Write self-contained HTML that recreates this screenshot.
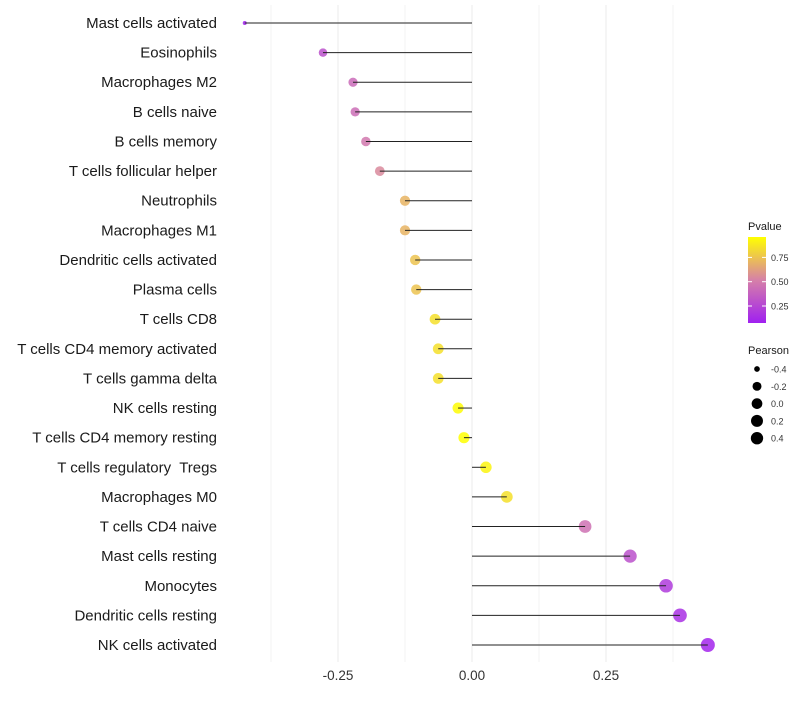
<!DOCTYPE html>
<html><head><meta charset="utf-8"><style>
body{margin:0;background:#fff;font-family:"Liberation Sans",sans-serif}
text{white-space:pre}
</style></head><body>
<svg id="c" width="800" height="700" xmlns="http://www.w3.org/2000/svg"></svg>
<script>
const categories=["Mast cells activated","Eosinophils","Macrophages M2","B cells naive","B cells memory","T cells follicular helper","Neutrophils","Macrophages M1","Dendritic cells activated","Plasma cells","T cells CD8","T cells CD4 memory activated","T cells gamma delta","NK cells resting","T cells CD4 memory resting","T cells regulatory  Tregs","Macrophages M0","T cells CD4 naive","Mast cells resting","Monocytes","Dendritic cells resting","NK cells activated"];
const pearson=[-0.424,-0.278,-0.222,-0.218,-0.198,-0.172,-0.125,-0.125,-0.106,-0.104,-0.069,-0.063,-0.063,-0.026,-0.015,0.026,0.065,0.211,0.295,0.362,0.388,0.440];
const pvalue=[0.08,0.3,0.42,0.43,0.48,0.55,0.7,0.7,0.75,0.75,0.85,0.85,0.85,0.95,0.97,0.92,0.85,0.45,0.3,0.2,0.15,0.1];
const xTicks=[-0.25,0,0.25];
const xTickLabels=["-0.25","0.00","0.25"];
const xMinor=[-0.375,-0.125,0.125,0.375];
const cbTicks=[0.25,0.5,0.75];
const sizeTicks=[-0.4,-0.2,0.0,0.2,0.4];
const sizeTickLabels=["-0.4","-0.2","0.0","0.2","0.4"];

const NS="http://www.w3.org/2000/svg";
const svg=document.getElementById('c');
function el(t,a,p){const e=document.createElementNS(NS,t);for(const k in a)e.setAttribute(k,a[k]);(p||svg).appendChild(e);return e;}
const x=v=>472+v*536;
const y=i=>23+i*(622/21);
const r=v=>2+5*Math.pow(Math.max(0,(v+0.424)/0.864),0.45);
function lerp(a,b,t){return a.map((c,i)=>Math.round(c+(b[i]-c)*t));}
function col(p){const lo=0.075,hi=0.96;let t=Math.max(0,Math.min(1,(p-lo)/(hi-lo)));
 const A=[160,32,240],M=[214,128,168],B=[255,255,0];
 const c=t<0.5?lerp(A,M,t/0.5):lerp(M,B,(t-0.5)/0.5);return `rgb(${c})`;}

xMinor.concat(xTicks).forEach(v=>{const g=el('line',{x1:x(v),x2:x(v),y1:5,y2:662,stroke:'#ebebeb','stroke-width':xTicks.includes(v)?1:0.6});
});
xTicks.forEach((v,i)=>{const t=el('text',{x:x(v),y:680,'text-anchor':'middle','font-size':13.5,fill:'#333'});t.textContent=xTickLabels[i];
});
categories.forEach((c,i)=>{
 const t=el('text',{x:217,y:y(i)+5,'text-anchor':'end','font-size':15,fill:'#1a1a1a'});t.textContent=c;
 
 const d=el('circle',{cx:x(pearson[i]),cy:y(i),r:r(pearson[i]),fill:col(pvalue[i]),'fill-opacity':0.85});
 
 const l=el('line',{x1:x(0),x2:x(pearson[i]),y1:y(i),y2:y(i),stroke:'#222','stroke-width':1});
 
});
let t=el('text',{x:748,y:230,'font-size':11,fill:'#1a1a1a'});t.textContent='Pvalue';

const defs=el('defs',{});const gr=el('linearGradient',{id:'g',x1:0,y1:1,x2:0,y2:0},defs);
[0,0.25,0.5,0.75,1].forEach(s=>el('stop',{offset:s,'stop-color':col(0.075+s*(0.96-0.075))},gr));
const cb=el('rect',{x:748,y:237,width:18,height:86,fill:'url(#g)'});

const cy=v=>323-(v-0.075)/(0.96-0.075)*86;
cbTicks.forEach(v=>{el('line',{x1:748,x2:752,y1:cy(v),y2:cy(v),stroke:'#fff'});el('line',{x1:762,x2:766,y1:cy(v),y2:cy(v),stroke:'#fff'});
 const tt=el('text',{x:771,y:cy(v)+3.5,'font-size':9,fill:'#333'});tt.textContent=v.toFixed(2);
 });
t=el('text',{x:748,y:354,'font-size':11,fill:'#1a1a1a'});t.textContent='Pearson';

sizeTicks.forEach((v,i)=>{const yy=369+i*17.3;
 const c=el('circle',{cx:757,cy:yy,r:Math.min(r(v),6.5)*0.95,fill:'#000'});
 const tt=el('text',{x:771,y:yy+3.5,'font-size':9,fill:'#333'});tt.textContent=sizeTickLabels[i];
 });
</script>
</body></html>
